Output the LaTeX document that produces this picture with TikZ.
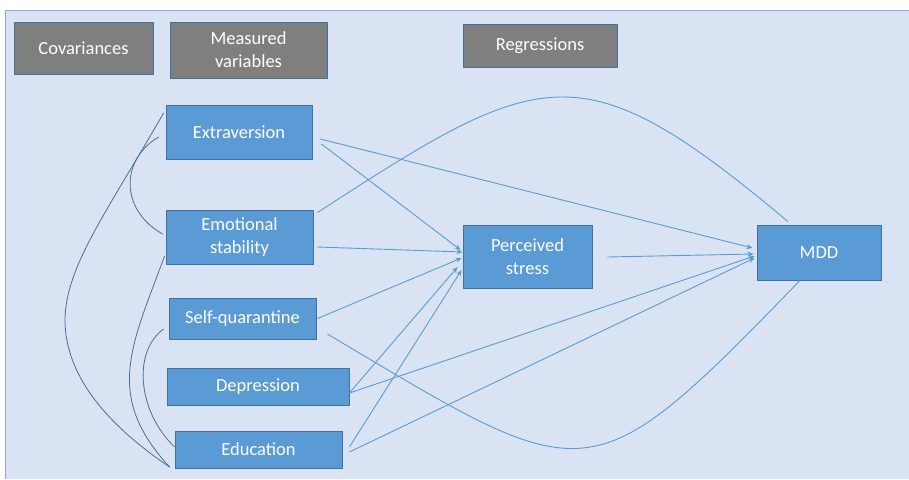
\documentclass[tikz,border=0pt]{standalone}
\usepackage{fontspec}
\setmainfont{Carlito}
\usetikzlibrary{arrows.meta}
\definecolor{panel}{HTML}{DAE3F3}
\definecolor{panelline}{HTML}{8FAADC}
\definecolor{boxblue}{HTML}{5B9BD5}
\definecolor{boxedge}{HTML}{41719C}
\definecolor{greybox}{HTML}{7F7F7F}
\definecolor{covline}{HTML}{4A6E96}
\tikzset{
  varbox/.style={draw=boxedge, fill=boxblue, text=white, line width=0.8pt, inner sep=0pt, align=center},
  headbox/.style={draw=boxedge, fill=greybox, text=white, line width=0.8pt, inner sep=0pt, align=center},
  regline/.style={draw=boxblue, line width=0.9pt, -{Stealth[length=6pt,width=5pt]}},
  plainline/.style={draw=boxblue, line width=0.9pt},
  covcurve/.style={draw=covline, line width=0.8pt}
}
\begin{document}
\begin{tikzpicture}[x=1pt,y=-1pt,font=\fontsize{18.5}{23}\selectfont]
\useasboundingbox (0,0) rectangle (909,479);
\fill[white] (0,0) rectangle (909,479);
\fill[panel] (5,10) rectangle (909,479);
\draw[panelline, line width=0.8pt] (5,479) -- (5,10) -- (909,10);

% header boxes
\node[headbox, minimum width=139pt, minimum height=52pt] (cov) at (83.5,48) {Covariances};
\node[headbox, minimum width=157pt, minimum height=56pt] (meas) at (248.5,50) {Measured\\variables};
\node[headbox, minimum width=154pt, minimum height=43pt] (reg) at (540,45.5) {Regressions};

% variable boxes
\node[varbox, minimum width=146pt, minimum height=54pt] (ext) at (239,132) {Extraversion};
\node[varbox, minimum width=147pt, minimum height=54pt] (emo) at (239.5,237) {Emotional\\stability};
\node[varbox, minimum width=147pt, minimum height=41pt] (selfq) at (242.5,318.5) {Self-quarantine};
\node[varbox, minimum width=182pt, minimum height=37pt] (dep) at (258,386.5) {Depression};
\node[varbox, minimum width=167pt, minimum height=37pt] (edu) at (258.5,449.5) {Education};
\node[varbox, minimum width=129pt, minimum height=63pt] (ps) at (527.5,256.5) {Perceived\\stress};
\node[varbox, minimum width=124pt, minimum height=55pt] (mdd) at (819,252.5) {MDD};

% regressions to perceived stress
\draw[regline] ([shift={(9,12)}]ext.east) -- ([shift={(-2,-6.5)}]ps.west);
\draw[regline] ([shift={(4,10)}]emo.east) -- ([shift={(0,-4.5)}]ps.west);
\draw[regline] ([shift={(1,0)}]selfq.east) -- ([shift={(-1,1.5)}]ps.west);
\draw[regline] ([shift={(0,6.5)}]dep.east) -- ([shift={(-5,10.5)}]ps.west);
\draw[regline] ([shift={(7,-2.5)}]edu.east) -- ([shift={(-1,13.5)}]ps.west);

% regressions to MDD
\draw[regline] ([shift={(8,7)}]ext.east) -- ([shift={(-4,-4.5)}]mdd.west);
\draw[regline] ([shift={(15,0.5)}]ps.east) -- ([shift={(-3,1.5)}]mdd.west);
\draw[regline] ([shift={(0,6.5)}]dep.east) -- ([shift={(-2,3.5)}]mdd.west);
\draw[regline] ([shift={(7,2.5)}]edu.east) -- ([shift={(-2,5.5)}]mdd.west);

% curved links to MDD
\draw[plainline] ([shift={(4,3)}]emo.north east) .. controls (543,66) and (581,48) .. ([shift={(-31,-3)}]mdd.north);
\draw[plainline] ([shift={(11,15.5)}]selfq.east) .. controls (590,490) and (587,500) .. ([shift={(-19,0)}]mdd.south);

% covariances
\draw[covcurve] ([shift={(-2,-19)}]ext.west) .. controls (105,215) and (67,265) .. (65,318) .. controls (64,380) and (115,430) .. ([shift={(-5,17.5)}]edu.west);
\draw[covcurve] ([shift={(-7,5)}]ext.west) .. controls (120,160) and (120,210) .. ([shift={(-3,-3)}]emo.west);
\draw[covcurve] ([shift={(-1,19)}]emo.west) .. controls (131,347) and (104,396) .. ([shift={(-5,17.5)}]edu.west);
\draw[covcurve] ([shift={(-5,10.5)}]selfq.west) .. controls (132,352) and (138,412) .. ([shift={(0,-2.5)}]edu.west);
\end{tikzpicture}
\end{document}
